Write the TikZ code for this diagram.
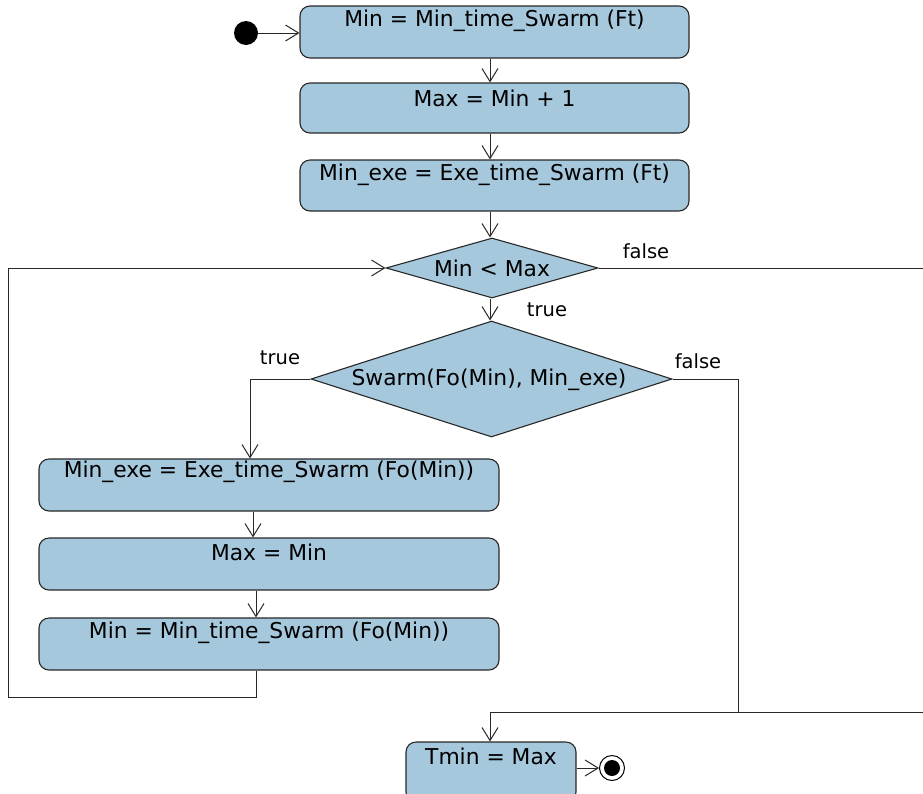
\documentclass[tikz,border=0pt]{standalone}
\usepackage{fontspec}
\setmainfont{DejaVu Sans}
\usetikzlibrary{arrows.meta,shapes.geometric,calc}
\definecolor{boxfill}{RGB}{166,200,220}
\definecolor{boxline}{RGB}{40,40,40}
\tikzset{
  act/.style={draw=boxline, fill=boxfill, line width=1.1pt, rounded corners=10pt, inner sep=0pt},
  dec/.style={draw=boxline, fill=boxfill, line width=1.1pt, diamond, inner sep=0pt},
  txt/.style={font=\fontsize{21.8}{24}\selectfont, inner sep=0pt},
  lbl/.style={font=\fontsize{19.5}{22}\selectfont, inner sep=0pt},
  flow/.style={line width=1pt, draw=boxline, -{Straight Barb[length=13pt,width=16pt,line width=1pt]}},
  wire/.style={line width=1pt, draw=boxline},
}
\begin{document}
\begin{tikzpicture}[x=1pt,y=-1pt]
\useasboundingbox (0,0) rectangle (923,793);
\clip (0,0) rectangle (923,793);
% nodes
\node[circle, fill=black, minimum size=24pt, inner sep=0pt] (start) at (246,33) {};
\node[act, minimum width=389pt, minimum height=52pt] (b1) at (494.5,32) {};
\node[txt] (t1) at (494.5,21) {Min = Min\_time\_Swarm (Ft)};
\node[act, minimum width=389pt, minimum height=50pt] (b2) at (494.5,108) {};
\node[txt] (t2) at (494.5,98) {Max = Min + 1};
\node[act, minimum width=389pt, minimum height=51pt] (b3) at (494.5,185.5) {};
\node[txt] (t3) at (494.5,175) {Min\_exe = Exe\_time\_Swarm (Ft)};
\node[dec, minimum width=212pt, minimum height=60pt] (d1) at (492,268) {};
\node[txt] (t4) at (492,268) {Min < Max};
\node[dec, minimum width=361pt, minimum height=116pt] (d2) at (491.5,379) {};
\node[txt] (t5) at (489,380) {Swarm(Fo(Min), Min\_exe)};
\node[act, minimum width=460pt, minimum height=52pt] (b4) at (269,485) {};
\node[txt] (t6) at (269,472) {Min\_exe = Exe\_time\_Swarm (Fo(Min))};
\node[act, minimum width=460pt, minimum height=52pt] (b5) at (269,564) {};
\node[txt] (t7) at (269,552) {Max = Min};
\node[act, minimum width=460pt, minimum height=52pt] (b6) at (269,644) {};
\node[txt] (t8) at (269,633) {Min = Min\_time\_Swarm (Fo(Min))};
\node[act, minimum width=170pt, minimum height=60pt] (b7) at (491,772) {};
\node[txt] (t9) at (491,756) {Tmin = Max};
\node[circle, draw=black, line width=1pt, fill=white, minimum size=25pt, inner sep=0pt] (endo) at (612,768) {};
\node[circle, fill=black, minimum size=16pt, inner sep=0pt] (endi) at (612,768) {};
% labels
\node[lbl] (l1) at (646,251) {false};
\node[lbl] (l2) at (547,310) {true};
\node[lbl] (l3) at (280,358) {true};
\node[lbl] (l4) at (698,361) {false};
% coordinates
\coordinate (loopA) at (256,697);
\coordinate (loopB) at (8,697);
\coordinate (loopC) at (8,268);
\coordinate (tA) at (250,379);
\coordinate (fA) at (738,379);
\coordinate (fB) at (738,712);
\coordinate (eR1) at (923,268);
\coordinate (eR2) at (923,712);
\coordinate (mB) at (490,712);
% connectors
\draw[flow] (start) -- (b1.west |- start);
\draw[flow] (b1.south -| 490,0) -- (b2.north -| 490,0);
\draw[flow] (b2.south -| 490,0) -- (b3.north -| 490,0);
\draw[flow] (b3.south -| 490,0) -- (d1.north -| 490,0);
\draw[flow] (d1.south -| 490,0) -- (d2.north -| 490,0);
\draw[flow] (d2.west) -- (tA) -- (b4.north -| tA);
\draw[flow] (b4.south -| 253,0) -- (b5.north -| 253,0);
\draw[flow] (b5.south -| 256,0) -- (b6.north -| 256,0);
\draw[flow] (b6.south -| loopA) -- (loopA) -- (loopB) -- (loopC) -- (d1.west);
\draw[wire] (d2.east) -- (fA) -- (fB);
\draw[wire] (d1.east) -- (eR1);
\draw[flow] (eR2) -- (mB) -- (b7.north -| mB);
\draw[flow] (b7.east |- endo) -- (endo.west);
\end{tikzpicture}
\end{document}
